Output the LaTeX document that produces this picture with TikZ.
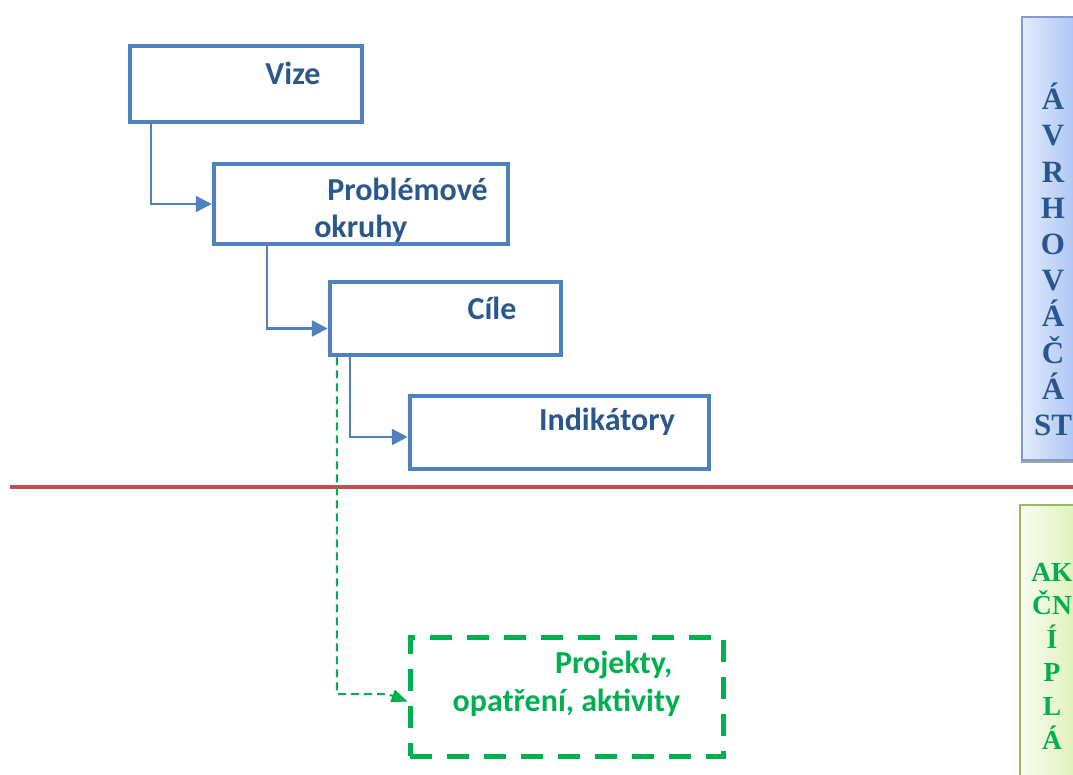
\documentclass[tikz,border=0pt]{standalone}
\usepackage{fontspec}
\setmainfont{Carlito}
\newfontfamily\barfont{Liberation Serif}
\usetikzlibrary{arrows.meta, shadows}
\definecolor{boxblue}{HTML}{4F81BD}
\definecolor{textblue}{HTML}{2B578A}
\definecolor{okgreen}{HTML}{00B050}
\definecolor{redline}{HTML}{C0504D}
\definecolor{barblue}{HTML}{2A5690}
\definecolor{barborder}{HTML}{7E9CCF}
\definecolor{barleft}{HTML}{E2EBFB}
\definecolor{barright}{HTML}{A4C0F3}
\definecolor{grborder}{HTML}{9BBB59}
\definecolor{grleft}{HTML}{F8FCEF}
\definecolor{grright}{HTML}{DCF1B4}

\begin{document}
\begin{tikzpicture}[x=1pt, y=-1pt,
        box/.style={rectangle, draw=boxblue, line width=4.5pt, fill=white, inner sep=0pt},
        boxtext/.style={text=textblue, font=\bfseries\fontsize{32}{37}\selectfont, align=left},
        greenbox/.style={rectangle, draw=okgreen, line width=5pt, dash pattern=on 22pt off 15pt, inner sep=0pt},
        greentext/.style={text=okgreen, font=\bfseries\fontsize{32}{38}\selectfont, align=right},
        link/.style={draw=boxblue, line width=2.5pt, -{Triangle[length=16pt, width=16pt]}},
        greenlink/.style={draw=okgreen, line width=2pt, dash pattern=on 8pt off 5pt,
            -{Triangle[length=16pt, width=13pt]}},
        bluebar/.style={rectangle, draw=barborder, line width=2pt, left color=barleft, right color=barright,
            drop shadow={shadow xshift=-1.5pt, shadow yshift=-2.5pt, fill=black!45, opacity=0.8}},
        greenbar/.style={rectangle, draw=grborder, line width=2.5pt, left color=grleft, right color=grright},
        bluebartext/.style={text=barblue, font=\barfont\bfseries\fontsize{31}{36.2}\selectfont, align=center},
        greenbartext/.style={text=okgreen, font=\barfont\bfseries\fontsize{27.5}{33.6}\selectfont, align=center}]

        \useasboundingbox (0,0) rectangle (1073,774);
        \fill[white] (0,0) rectangle (1073,774);
        \clip (0,0) rectangle (1073,774);

        % Nodes
        \node[box, minimum width=232pt, minimum height=76pt,
            label={[boxtext, shift={(47,-11)}]center:Vize}] (vize) at (246,84) {};
        \node[box, minimum width=294pt, minimum height=80pt,
            label={[boxtext, shift={(40,6)}]center:\hspace*{13pt}Problémové\\okruhy}] (okruhy) at (361,204) {};
        \node[box, minimum width=231pt, minimum height=73pt,
            label={[boxtext, shift={(46.5,-10.5)}]center:Cíle}] (cile) at (445.5,318.5) {};
        \node[box, minimum width=299pt, minimum height=73pt,
            label={[boxtext, shift={(47.5,-10.5)}]center:Indikátory}] (indikatory) at (559.5,432.5) {};
        \node[greenbox, minimum width=313pt, minimum height=119pt,
            label={[greentext, shift={(0,-13)}]center:Projekty,\hspace*{8pt}\\opatření, aktivity}] (projekty) at (566.5,696.5) {};

        % Side bars
        \node[bluebar, minimum width=62pt, minimum height=443pt,
            label={[bluebartext, shift={(0,21)}]center:Á\\V\\R\\H\\O\\V\\Á\\Č\\Á\\ST}] (strategie) at (1053,238.5) {};
        \node[greenbar, minimum width=64pt, minimum height=295pt,
            label={[greenbartext, shift={(0,3.5)}]center:AK\\ČN\\Í\\P\\L\\Á}] (akcni) at (1052,652.5) {};

        % Separator
        \draw[redline, line width=4pt] (10,487) -- (1073,487);

        % Connections
        \draw[link] ([xshift=23pt]vize.south west) |- (okruhy.west);
        \draw[link] ([xshift=55pt]okruhy.south west) |- ([yshift=-10pt]cile.west);
        \draw[link] ([xshift=22pt]cile.south west) |- ([yshift=-4.5pt]indikatory.west);
        \draw[greenlink] ([xshift=9pt]cile.south west) |- ([xshift=-20pt, yshift=2.5pt]projekty.west)
            -- ([yshift=-5pt]projekty.west);
\end{tikzpicture}
\end{document}
